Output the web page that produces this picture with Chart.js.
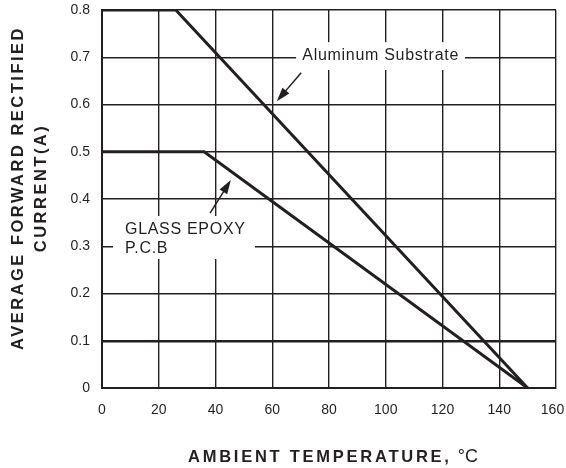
<!DOCTYPE html>
<html>
<head>
<meta charset="utf-8">
<script src="https://cdn.jsdelivr.net/npm/chart.js@4.4.1/dist/chart.umd.min.js"></script>
<style>
  html, body { margin: 0; padding: 0; background: #fff; }
  #wrap { width: 566px; height: 468px; }
</style>
</head>
<body>
<div id="wrap"><canvas id="derating"></canvas></div>
<script>
// data
const temps = [0, 20, 40, 60, 80, 100, 120, 140, 160];
const currentTicks = [0, 0.1, 0.2, 0.3, 0.4, 0.5, 0.6, 0.7, 0.8];
const aluminumX = [0, 26, 150];
const aluminumY = [0.8, 0.8, 0];
const epoxyX = [0, 36, 150];
const epoxyY = [0.5, 0.5, 0];

const yTitle = ['AVERAGE FORWARD RECTIFIED', 'CURRENT(A)'];
const xTitle = 'AMBIENT TEMPERATURE,';

const toPoints = (xs, ys) => xs.map((x, i) => ({ x: x, y: ys[i] }));

const ink = '#231f20';
const tickFont = { family: 'Liberation Sans, Arial, sans-serif', size: 14 };

// labels with white boxes and arrows, placed in data units
const notes = {
    id: 'notes',
    beforeDatasetsDraw(chart) {
        const { ctx, scales: { x, y } } = chart;
        const box = (x0, y0, x1, y1) => {
            ctx.fillRect(x.getPixelForValue(x0), y.getPixelForValue(y0),
                x.getPixelForValue(x1) - x.getPixelForValue(x0),
                y.getPixelForValue(y1) - y.getPixelForValue(y0));
        };
        ctx.save();
        ctx.fillStyle = '#fff';
        box(68.4, 0.732, 127.9, 0.673);   // behind "Aluminum Substrate"
        box(3.9, 0.364, 53.9, 0.273);     // behind glass epoxy label
        ctx.restore();
    },
    afterDatasetsDraw(chart) {
        const { ctx, scales: { x, y } } = chart;
        ctx.save();
        ctx.fillStyle = ink;
        ctx.font = '16px "Liberation Sans", Arial, sans-serif';
        ctx.letterSpacing = '0.7px';
        ctx.textBaseline = 'alphabetic';
        ctx.textAlign = 'left';
        ctx.fillText('Aluminum Substrate', x.getPixelForValue(70.6), y.getPixelForValue(0.694));
        ctx.fillText('GLASS EPOXY', x.getPixelForValue(8.1), y.getPixelForValue(0.325));
        ctx.fillText('P.C.B', x.getPixelForValue(8.1), y.getPixelForValue(0.2857));

        const arrow = (x0, y0, x1, y1) => {
            const px0 = x.getPixelForValue(x0), py0 = y.getPixelForValue(y0);
            const px1 = x.getPixelForValue(x1), py1 = y.getPixelForValue(y1);
            const a = Math.atan2(py1 - py0, px1 - px0);
            ctx.strokeStyle = ink;
            ctx.lineWidth = 1.5;
            ctx.beginPath();
            ctx.moveTo(px0, py0);
            ctx.lineTo(px1 - 8 * Math.cos(a), py1 - 8 * Math.sin(a));
            ctx.stroke();
            ctx.beginPath();
            ctx.moveTo(px1, py1);
            ctx.lineTo(px1 - 14 * Math.cos(a) + 4.5 * Math.sin(a), py1 - 14 * Math.sin(a) - 4.5 * Math.cos(a));
            ctx.lineTo(px1 - 14 * Math.cos(a) - 4.5 * Math.sin(a), py1 - 14 * Math.sin(a) + 4.5 * Math.cos(a));
            ctx.closePath();
            ctx.fill();
        };
        arrow(70.2, 0.667, 61.6, 0.607);
        arrow(38.1, 0.370, 45.4, 0.44);
        ctx.restore();
    },
    afterDraw(chart) {
        const { ctx } = chart;
        // y title, two rotated lines
        ctx.save();
        ctx.fillStyle = ink;
        ctx.textAlign = 'center';
        ctx.textBaseline = 'middle';
        ctx.font = 'bold 16.5px "Liberation Sans", Arial, sans-serif';
        ctx.letterSpacing = '2.5px';
        ctx.translate(18, 188);
        ctx.rotate(-Math.PI / 2);
        ctx.fillText(yTitle[0], 0, 0);
        ctx.fillText(yTitle[1], 0, 23);
        ctx.restore();

        // x title, bold text then plain degree sign
        ctx.save();
        ctx.fillStyle = ink;
        ctx.textBaseline = 'alphabetic';
        ctx.textAlign = 'left';
        ctx.font = 'bold 16.5px "Liberation Sans", Arial, sans-serif';
        ctx.letterSpacing = '2.75px';
        ctx.fillText(xTitle, 188, 462);
        const w = ctx.measureText(xTitle).width;
        ctx.letterSpacing = '0px';
        ctx.font = '18px "Liberation Sans", Arial, sans-serif';
        ctx.fillText('\u00b0C', 188 + w + 6, 462);
        ctx.restore();
    }
};

new Chart(document.getElementById('derating'), {
    type: 'line',
    data: {
        datasets: [{
            label: 'Aluminum Substrate',
            data: toPoints(aluminumX, aluminumY),
            borderColor: ink,
            borderWidth: 3,
            pointRadius: 0,
            tension: 0
        }, {
            label: 'GLASS EPOXY P.C.B',
            data: toPoints(epoxyX, epoxyY),
            borderColor: ink,
            borderWidth: 3,
            pointRadius: 0,
            tension: 0
        }]
    },
    options: {
        responsive: true,
        maintainAspectRatio: false,
        animation: false,
        layout: {
            padding: { left: 0, right: 10, top: 10, bottom: 0 }
        },
        scales: {
            x: {
                type: 'linear',
                min: 0,
                max: 160,
                afterBuildTicks: (scale) => { scale.ticks = temps.map(v => ({ value: v })); },
                afterFit: (scale) => { scale.height = 80; scale.paddingLeft = 0; scale.paddingRight = 0; },
                ticks: {
                    color: ink,
                    font: tickFont,
                    padding: 14,
                    // last label sits a little left so it stays inside the canvas
                    callback: (v) => (v === 160 ? v + '\u2002' : String(v))
                },
                grid: { color: ink, lineWidth: 1.4, drawTicks: false },
                border: { color: ink, width: 2 }
            },
            y: {
                min: 0,
                max: 0.8,
                afterBuildTicks: (scale) => { scale.ticks = currentTicks.map(v => ({ value: v })); },
                afterFit: (scale) => { scale.width = 102; scale.paddingTop = 0; scale.paddingBottom = 0; },
                ticks: { color: ink, font: tickFont, padding: 12 },
                grid: {
                    color: ink,
                    drawTicks: false,
                    lineWidth: (c) => (c.tick && Math.abs(c.tick.value - 0.1) < 1e-6 ? 2.5 : 1.4)
                },
                border: { color: ink, width: 2 }
            }
        },
        plugins: {
            legend: { display: false },
            tooltip: { enabled: false }
        }
    },
    plugins: [notes]
});
</script>
</body>
</html>
